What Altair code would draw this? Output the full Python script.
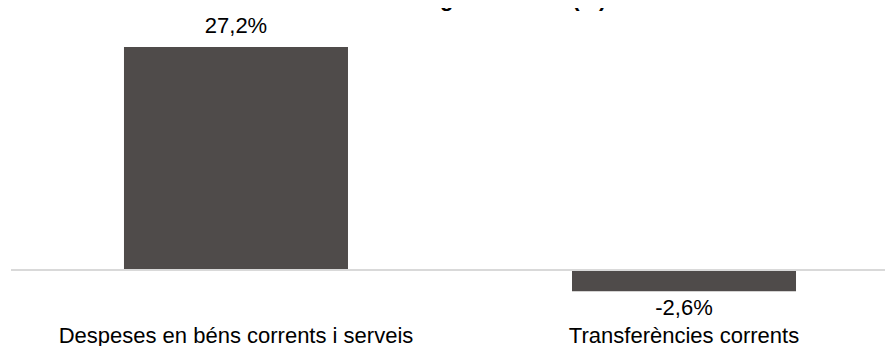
import altair as alt
import pandas as pd

categories = ["Despeses en béns corrents i serveis", "Transferències corrents"]
values = [27.2, -2.6]
labels = ["27,2%", "-2,6%"]
title_text = "Creixement segons classe (%)"

df = pd.DataFrame({"cat": categories, "val": values, "label": labels})

FONT = "Liberation Sans, Arial, sans-serif"
BAR = "#4f4b4a"

xenc = alt.X(
    "cat:N",
    sort=categories,
    scale=alt.Scale(paddingInner=0.5, paddingOuter=0.2254, align=0.5594),
    axis=alt.Axis(
        title=None, domain=False, ticks=False, tickSize=0, grid=False,
        labelAngle=0, labelFont=FONT, labelFontSize=22, labelColor="#000",
        labelPadding=18, labelBaseline="alphabetic", labelLimit=0,
    ),
)
yenc = alt.Y("val:Q", scale=alt.Scale(domain=[-6.585, 31.95], nice=False, zero=False), axis=None)

base = alt.Chart(df)
bars = base.mark_bar(color=BAR).encode(x=xenc, y=yenc)
zero = base.mark_rule(color="#d9d9d9", strokeWidth=2).encode(y=alt.datum(0))
pos = base.transform_filter("datum.val >= 0").mark_text(
    dy=-14, baseline="alphabetic", fontSize=22, font=FONT, color="#000"
).encode(x=alt.X("cat:N", sort=categories), y="val:Q", text="label:N")
neg = base.transform_filter("datum.val < 0").mark_text(
    dy=24, baseline="alphabetic", fontSize=22, font=FONT, color="#000"
).encode(x=alt.X("cat:N", sort=categories), y="val:Q", text="label:N")

chart = alt.layer(bars, zero, pos, neg).properties(
    width=874,
    height=316,
    autosize="none",
    padding={"left": 3, "top": 0, "right": 0, "bottom": 22},
    title=alt.TitleParams(
        title_text, font=FONT, fontSize=22, fontWeight="bold", color="#000",
        anchor="middle", offset=0, baseline="bottom", dy=25,
    ),
).configure_view(stroke=None)

chart.save("out.html", embed_options={"renderer": "svg", "actions": False})
